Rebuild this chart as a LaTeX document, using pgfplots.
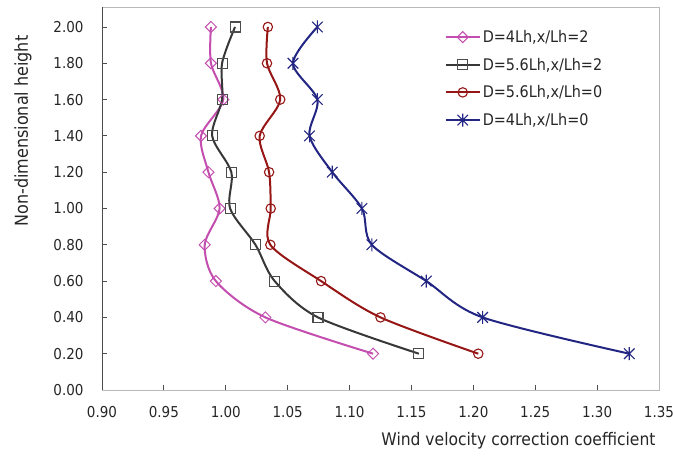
\documentclass[border=0pt]{standalone}
\usepackage{fontspec}
\setmainfont{DejaVu Sans Condensed}
\usepackage{pgfplots}
\pgfplotsset{compat=1.18}
\definecolor{cpink}{RGB}{195,78,175}
\definecolor{cgray}{RGB}{55,55,55}
\definecolor{cred}{RGB}{150,22,22}
\definecolor{cblue}{RGB}{34,38,130}
\pgfdeclareplotmark{xstar}{%
  \pgfpathmoveto{\pgfqpoint{0pt}{1.05\pgfplotmarksize}}%
  \pgfpathlineto{\pgfqpoint{0pt}{-1.05\pgfplotmarksize}}%
  \pgfpathmoveto{\pgfqpoint{-0.85\pgfplotmarksize}{-0.85\pgfplotmarksize}}%
  \pgfpathlineto{\pgfqpoint{0.85\pgfplotmarksize}{0.85\pgfplotmarksize}}%
  \pgfpathmoveto{\pgfqpoint{-0.85\pgfplotmarksize}{0.85\pgfplotmarksize}}%
  \pgfpathlineto{\pgfqpoint{0.85\pgfplotmarksize}{-0.85\pgfplotmarksize}}%
  \pgfusepathqstroke}
\begin{document}
\begin{tikzpicture}
\useasboundingbox (-102pt,-67pt) rectangle (571pt,390pt);
\begin{axis}[
  at={(0,0)}, anchor=south west,
  scale only axis, width=557pt, height=383pt,
  xmin=0.9, xmax=1.35, ymin=0, ymax=2.11,
  xtick={0.9,0.95,1.0,1.05,1.1,1.15,1.2,1.25,1.3,1.35},
  ytick={0,0.2,0.4,0.6,0.8,1.0,1.2,1.4,1.6,1.8,2.0},
  tick align=inside, xtick pos=left, ytick pos=left,
  major tick length=5pt,
  tick style={black!70, line width=0.8pt},
  axis line style={gray!55, line width=0.8pt},
  tick label style={font=\fontsize{15}{18}\selectfont, text=black!85},
  /pgf/number format/.cd, fixed, fixed zerofill, precision=2, assume math mode=true,
  /pgfplots/.cd,
  xticklabel style={yshift=-13pt},
  yticklabel style={xshift=-15pt},
  xlabel={Wind velocity correction coefficient},
  ylabel={Non-dimensional height},
  xlabel style={at={(axis description cs:1,-0.133)}, anchor=east, font=\fontsize{17.3}{20}\selectfont, text=black!85},
  ylabel style={at={(axis description cs:-0.142,0.676)}, anchor=center, font=\fontsize{17.8}{20}\selectfont, text=black!85},
  legend style={draw=none, fill=none, at={(axis description cs:0.615,0.945)}, anchor=north west,
    font=\fontsize{16}{19}\selectfont, row sep=10pt, inner sep=0pt,
    nodes={inner sep=2pt, text=black!85}},
  legend cell align=left,
  legend image code/.code={\draw[mark repeat=2,mark phase=2,#1] plot coordinates {(0pt,0pt) (17pt,0pt) (34pt,0pt)};},
]
\addplot[cpink, line width=2pt, smooth, mark=square, mark size=3.9pt,
  mark options={rotate=45, fill=white, line width=1pt, solid}] coordinates {
(1.119,0.2) (1.032,0.4) (0.992,0.6) (0.983,0.8) (0.995,1.0)
(0.986,1.2) (0.980,1.4) (0.998,1.6) (0.988,1.8) (0.988,2.0)};
\addlegendentry{D=4Lh,x/Lh=2}
\addplot[cgray, line width=2pt, smooth, mark=square, mark size=5pt,
  mark options={fill=gray!8, draw=black!70, line width=1.1pt, solid}] coordinates {
(1.156,0.2) (1.0745,0.4) (1.0395,0.6) (1.024,0.8) (1.0035,1.0)
(1.0045,1.2) (0.989,1.4) (0.997,1.6) (0.997,1.8) (1.0075,2.0)};
\addlegendentry{D=5.6Lh,x/Lh=2}
\addplot[cred, line width=2pt, smooth, mark=o, mark size=4.7pt,
  mark options={fill=white, line width=1.1pt, solid}] coordinates {
(1.204,0.2) (1.125,0.4) (1.077,0.6) (1.036,0.8) (1.0363,1.0)
(1.035,1.2) (1.0274,1.4) (1.044,1.6) (1.0333,1.8) (1.034,2.0)};
\addlegendentry{D=5.6Lh,x/Lh=0}
\addplot[cblue, line width=2pt, smooth, mark=xstar, mark size=6.2pt,
  mark options={line width=1.1pt, solid}] coordinates {
(1.326,0.2) (1.2075,0.4) (1.162,0.6) (1.118,0.8) (1.110,1.0)
(1.086,1.2) (1.0677,1.4) (1.074,1.6) (1.0543,1.8) (1.074,2.0)};
\addlegendentry{D=4Lh,x/Lh=0}
\draw[black!70, line width=0.9pt] (rel axis cs:0,1) -- (rel axis cs:0,0) -- (rel axis cs:1,0);
\end{axis}
\end{tikzpicture}
\end{document}
